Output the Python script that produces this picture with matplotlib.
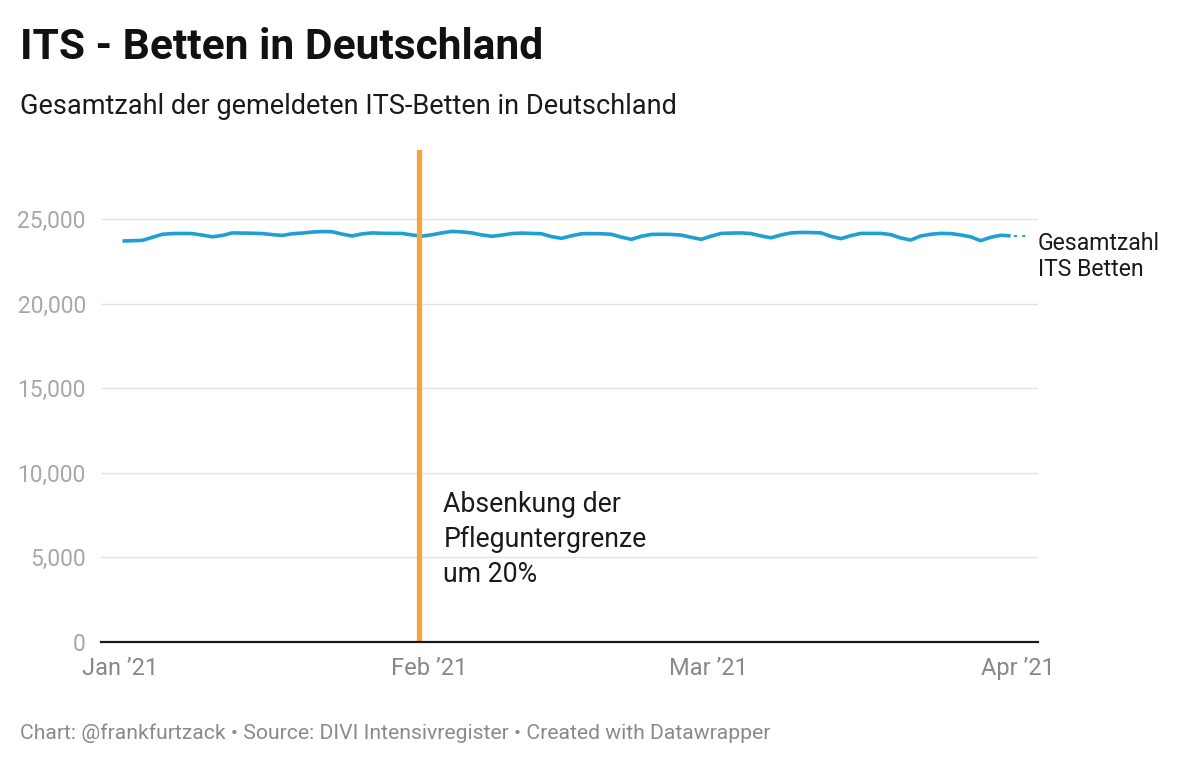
import pandas as pd
import matplotlib.pyplot as plt
from matplotlib.ticker import FuncFormatter

plt.rcParams['font.family'] = ['Roboto', 'DejaVu Sans']

# Daily total of reported ITS beds, Jan 1 - Mar 31 2021
start_date = "2021-01-01"
its_beds = [
    23700, 23720, 23740, 23920, 24100, 24140, 24150, 24140, 24050, 23950,
    24030, 24180, 24170, 24160, 24140, 24080, 24030, 24130, 24170, 24230,
    24260, 24250, 24110, 24000, 24120, 24180, 24160, 24150, 24150, 24060,
    23990, 24070, 24180, 24270, 24240, 24180, 24060, 23980, 24050, 24140,
    24170, 24150, 24130, 23960, 23860, 24010, 24130, 24140, 24130, 24100,
    23930, 23800, 23980, 24090, 24100, 24090, 24050, 23920, 23800, 23990,
    24150, 24170, 24180, 24140, 24000, 23890, 24060, 24180, 24210, 24200,
    24180, 23980, 23840, 24020, 24150, 24150, 24150, 24080, 23880, 23760,
    24000, 24100, 24150, 24140, 24060, 23950, 23720, 23920, 24040, 24010,
]
event_date = "2021-01-31"
event_label = "Absenkung der\nPfleguntergrenze\num 20%"
series_label = "Gesamtzahl\nITS Betten"
y_ticks = [0, 5000, 10000, 15000, 20000, 25000]
x_ticks = ["2021-01-01", "2021-02-01", "2021-03-01", "2021-04-01"]
x_tick_labels = ["Jan \u201921", "Feb \u201921", "Mar \u201921", "Apr \u201921"]

title = "ITS - Betten in Deutschland"
subtitle = "Gesamtzahl der gemeldeten ITS-Betten in Deutschland"
footer = "Chart: @frankfurtzack \u2022 Source: DIVI Intensivregister \u2022 Created with Datawrapper"

dates = pd.date_range(start_date, periods=len(its_beds), freq="D")
t0 = pd.Timestamp(start_date)

fig = plt.figure(figsize=(12, 7.65), dpi=100)
ax = fig.add_axes([0.0842, 0.1608, 0.7808, 0.6431])

blue = "#1f9fd2"
orange = "#f7a43c"

ax.plot(dates + pd.Timedelta(hours=6), its_beds, color=blue, lw=2.6,
        solid_capstyle="butt", zorder=3)
# dotted connector to the line label
ax.plot([dates[-1] + pd.Timedelta(hours=14), dates[-1] + pd.Timedelta(days=2.1)],
        [its_beds[-1], its_beds[-1]],
        color=blue, lw=1.4, ls=(0, (1.6, 2.6)), clip_on=False, zorder=3)

ax.axvline(pd.Timestamp(event_date), color=orange, lw=3.8, zorder=4)
ax.text(pd.Timestamp(event_date) + pd.Timedelta(days=2.4), 8950, event_label,
        fontsize=19.2, color="#1a1a1a", va="top", ha="left", linespacing=1.4)

ax.text(t0 + pd.Timedelta(days=92.0), its_beds[-1] + 230, series_label,
        fontsize=16.6, color="#1a1a1a", va="top", ha="left", linespacing=1.2,
        clip_on=False)

ax.set_xlim(t0 - pd.Timedelta(days=1.9), t0 + pd.Timedelta(days=92))
ax.set_ylim(0, 29080)

ax.set_yticks(y_ticks)
ax.yaxis.set_major_formatter(FuncFormatter(lambda v, p: f"{v:,.0f}"))
ax.set_xticks([pd.Timestamp(d) for d in x_ticks])
ax.set_xticklabels(x_tick_labels)

ax.grid(axis="y", color="#e2e2e2", lw=1)
ax.set_axisbelow(True)
for s in ["top", "right", "left"]:
    ax.spines[s].set_visible(False)
ax.spines["bottom"].set_color("#1a1a1a")
ax.spines["bottom"].set_linewidth(1.6)
ax.spines["bottom"].set_zorder(5)
ax.tick_params(axis="y", length=0, pad=11, labelsize=16.4, labelcolor="#a8a8a8")
ax.tick_params(axis="x", length=0, pad=11, labelsize=17, labelcolor="#888888")

fig.text(20 / 1200, 1 - 59 / 765, title, fontsize=30.6, fontweight="bold",
         color="#111111", ha="left", va="baseline")
fig.text(20 / 1200, 1 - 114 / 765, subtitle, fontsize=19.5,
         color="#1a1a1a", ha="left", va="baseline")
fig.text(20 / 1200, 1 - 739 / 765, footer, fontsize=15.2,
         color="#8a8a8a", ha="left", va="baseline")

fig.savefig("out.png", dpi=100, facecolor="white")
